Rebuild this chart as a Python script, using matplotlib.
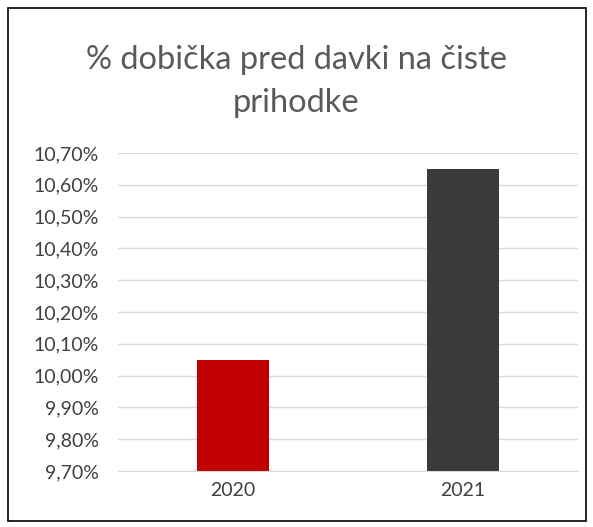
import matplotlib.pyplot as plt
from matplotlib.patches import Rectangle
from matplotlib.ticker import FuncFormatter

years = ["2020", "2021"]
values = [10.05, 10.65]
colors = ["#C00000", "#3A3A38"]

plt.rcParams['font.family'] = ['Lato', 'DejaVu Sans']

fig = plt.figure(figsize=(5.93, 5.27), dpi=100)
ax = fig.add_axes([118 / 593, 1 - 471 / 527, 460 / 593, 318 / 527])

ax.bar(years, values, width=0.31, color=colors, zorder=3)
ax.set_ylim(9.7, 10.7)
ax.set_xlim(-0.5, 1.5)
ax.set_yticks([9.7 + 0.1 * i for i in range(11)])
ax.yaxis.set_major_formatter(FuncFormatter(lambda v, p: f"{v:.2f}%".replace(".", ",")))
ax.grid(axis="y", color="#D9D9D9", linewidth=1, zorder=0)
for s in ["top", "right", "left"]:
    ax.spines[s].set_visible(False)
ax.spines["bottom"].set_color("#D9D9D9")
ax.tick_params(length=0, labelsize=14, labelcolor="#404040")
ax.tick_params(axis="y", pad=14)
ax.tick_params(axis="x", pad=8)

fig.text(0.5, 1 - 60 / 527, "% dobička pred davki na čiste", ha="center", va="center",
         fontsize=23.5, color="#595959")
fig.text(0.5, 1 - 103 / 527, "prihodke", ha="center", va="center",
         fontsize=23.5, color="#595959")

fig.patches.append(Rectangle((8 / 593, 6 / 527), 578 / 593, 513 / 527, transform=fig.transFigure,
                             fill=False, edgecolor="black", linewidth=1.2))

fig.savefig("out.png", dpi=100)
